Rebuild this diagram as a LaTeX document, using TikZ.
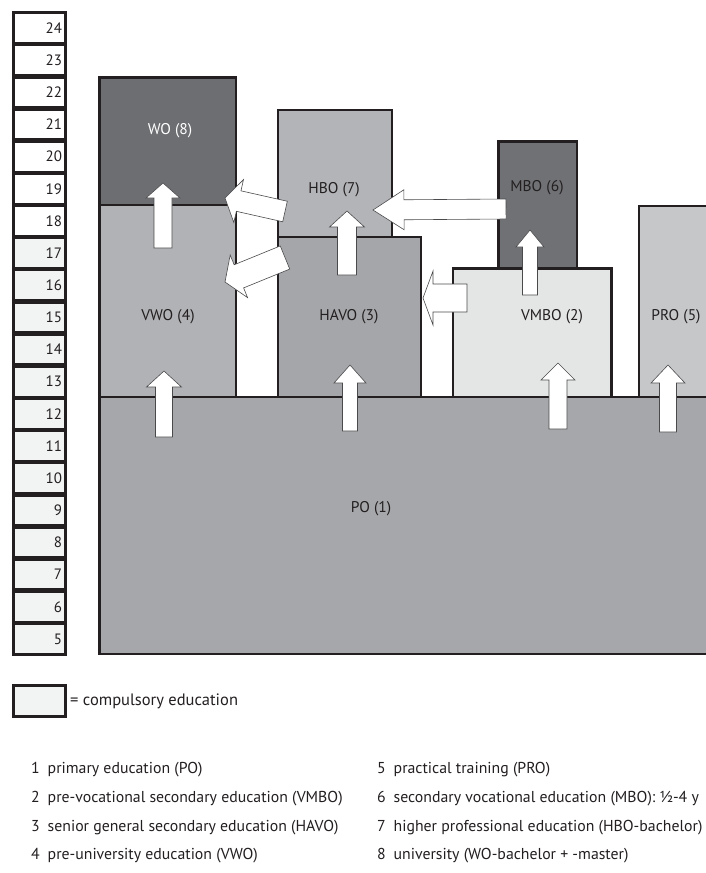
\documentclass[tikz,border=0pt]{standalone}
\usepackage{fontspec}
\setmainfont{PT Sans}
\usetikzlibrary{calc}
\definecolor{ink}{HTML}{231F20}
\definecolor{arrline}{HTML}{4A4A4C}
\definecolor{cWO}{HTML}{6D6E72}
\definecolor{cVWO}{HTML}{B1B2B5}
\definecolor{cHBO}{HTML}{B3B4B7}
\definecolor{cHAVO}{HTML}{A5A6A9}
\definecolor{cVMBO}{HTML}{E4E5E5}
\definecolor{cMBO}{HTML}{707175}
\definecolor{cPRO}{HTML}{C6C7C9}
\definecolor{cPO}{HTML}{A6A7AA}
\definecolor{compul}{HTML}{F2F3F3}
\tikzset{
  box/.style={draw=ink, line width=2.8pt, inner sep=0pt},
  agecell/.style={draw=ink, line width=3pt, minimum width=52pt, minimum height=30.65pt,
    inner sep=0pt, inner xsep=3.5pt, text width=45pt, align=right, text=ink,
    font=\fontsize{15}{16}\selectfont},
  lab/.style={text=ink, font=\fontsize{15.5}{17}\selectfont, inner sep=0pt},
  listitem/.style={text=ink, font=\fontsize{15.8}{17}\selectfont, anchor=west, inner sep=0pt},
  barrow/.style={fill=white, draw=arrline, line width=0.6pt, line join=miter},
}
\newcommand\boxnode[6]{%
  \node[box, fill=#6, minimum width={#4pt-#2pt}, minimum height={#5pt-#3pt}]
    (#1) at ({(#2+#4)/2},{(#3+#5)/2}) {};}
% tail, tip, shaft half width, head half width, head length
\newcommand\blockarrow[5]{%
  \coordinate (bac) at ($(#2)!#5pt!(#1)$);
  \draw[barrow] ($(#1)!#3pt!90:(#2)$) -- ($(bac)!#3pt!90:(#2)$) -- ($(bac)!#4pt!90:(#2)$)
    -- (#2) -- ($(bac)!#4pt!-90:(#2)$) -- ($(bac)!#3pt!-90:(#2)$) -- ($(#1)!#3pt!-90:(#2)$) -- cycle;}
\begin{document}
\begin{tikzpicture}[x=1pt,y=-1pt]
\useasboundingbox (0,0) rectangle (706,873);
\clip (0,0) rectangle (706,873);
% age column
\foreach \a in {24,23,...,5}{
  \pgfmathsetmacro\cy{655-(\a-5)*32.15-16.075}
  \pgfmathsetmacro\isc{\a<18 ? 1 : 0}
  \ifdim\isc pt>0.5pt
    \node[agecell, fill=compul] (age\a) at (39.5,\cy) {\a};
  \else
    \node[agecell, fill=white] (age\a) at (39.5,\cy) {\a};
  \fi
}
% boxes
\boxnode{po}{99.5}{397}{722}{654}{cPO}
\boxnode{vwo}{99.5}{205}{236}{397}{cVWO}
\boxnode{havo}{278}{237}{421}{397}{cHAVO}
\boxnode{vmbo}{453}{268.5}{611.5}{397}{cVMBO}
\boxnode{pro}{639}{206}{722}{397}{cPRO}
\boxnode{wo}{99.5}{77.5}{236}{205}{cWO}
\boxnode{hbo}{278}{110}{392}{237}{cHBO}
\boxnode{mbo}{498.5}{141.5}{577}{268.5}{cMBO}
% box labels
\node[lab, text=white] (lwo) at (170,131) {WO (8)};
\node[lab] (lhbo) at (334,190) {HBO (7)};
\node[lab] (lmbo) at (537,188) {MBO (6)};
\node[lab] (lvwo) at (168,317) {VWO (4)};
\node[lab] (lhavo) at (349,317) {HAVO (3)};
\node[lab] (lvmbo) at (552,317) {VMBO (2)};
\node[lab] (lpro) at (676,317) {PRO (5)};
\node[lab] (lpo) at (371,509) {PO (1)};
% arrow end points
\coordinate (a1t) at (163,248);   \coordinate (a1h) at (163,183);
\coordinate (a2t) at (347,275);   \coordinate (a2h) at (347,211);
\coordinate (a3t) at (530,295);   \coordinate (a3h) at (530,230);
\coordinate (a4t) at (164,437);   \coordinate (a4h) at (164,371);
\coordinate (a5t) at (350,431);   \coordinate (a5h) at (350,365);
\coordinate (a6t) at (558,429);   \coordinate (a6h) at (558,363);
\coordinate (a7t) at (668,432);   \coordinate (a7h) at (668,365);
\coordinate (a8t) at (506,209);   \coordinate (a8h) at (373,210);
\coordinate (a9t) at (467,298);   \coordinate (a9h) at (423,298);
\coordinate (a10t) at (285,211.5); \coordinate (a10h) at (225,198);
\coordinate (a11t) at (285,257.5); \coordinate (a11h) at (225,282);
\blockarrow{a1t}{a1h}{9}{17}{15}
\blockarrow{a2t}{a2h}{9.5}{17.5}{16}
\blockarrow{a3t}{a3h}{7.5}{14}{17}
\blockarrow{a4t}{a4h}{8.5}{17.5}{16}
\blockarrow{a5t}{a5h}{7.5}{16}{18}
\blockarrow{a6t}{a6h}{9}{17}{17}
\blockarrow{a7t}{a7h}{8.5}{17}{18}
\blockarrow{a8t}{a8h}{10}{20}{31}
\blockarrow{a9t}{a9h}{14}{27}{10}
\blockarrow{a10t}{a10h}{10.5}{22}{14}
\blockarrow{a11t}{a11h}{12.5}{23}{15}
% legend
\node[draw=ink, line width=3pt, fill=compul, minimum width=52pt, minimum height=31pt, inner sep=0pt]
  (leg) at (39.5,700.5) {};
\node[listitem, font=\fontsize{16.5}{18}\selectfont] (legtxt) at (70,701) {= compulsory education};
% list
\node[listitem] (i1) at (31,770) {1\enspace primary education (PO)};
\node[listitem] (i2) at (31,799) {2\enspace pre-vocational secondary education (VMBO)};
\node[listitem] (i3) at (31,828) {3\enspace senior general secondary education (HAVO)};
\node[listitem] (i4) at (31,856) {4\enspace pre-university education (VWO)};
\node[listitem] (i5) at (377,770) {5\enspace practical training (PRO)};
\node[listitem] (i6) at (377,799) {6\enspace secondary vocational education (MBO): ½-4 y};
\node[listitem] (i7) at (377,828) {7\enspace higher professional education (HBO-bachelor)};
\node[listitem] (i8) at (377,856) {8\enspace university (WO-bachelor + -master)};
\end{tikzpicture}
\end{document}
